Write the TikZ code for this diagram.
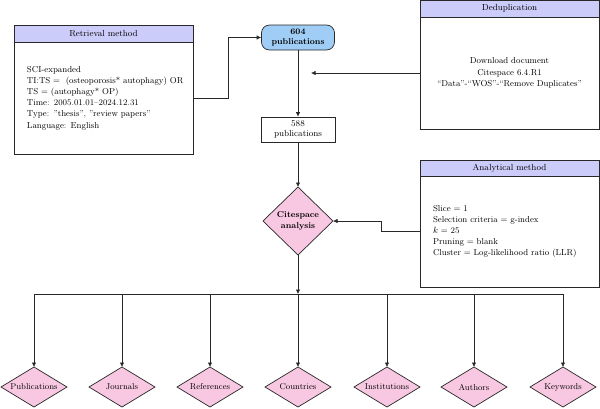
\documentclass[tikz,border=0pt]{standalone}
\usetikzlibrary{positioning,shapes.geometric,arrows.meta}

\definecolor{headcol}{RGB}{204,204,250}
\definecolor{pubcol}{RGB}{160,205,245}
\definecolor{diacol}{RGB}{248,200,226}
\definecolor{linecol}{RGB}{40,40,40}

\tikzset{head/.style = {rectangle, draw=linecol, fill=headcol, minimum width=179pt,
                        minimum height=#1, inner sep=0pt, outer sep=0pt,
                        font=\fontsize{8.8}{10}\selectfont},
         head/.default=17pt,
         body/.style = {rectangle, draw=linecol, minimum width=179pt, minimum height=#1,
                        text width=153pt, inner xsep=13pt, inner ysep=0pt, outer sep=0pt,
                        font=\fontsize{8.6}{11.2}\selectfont},
         body/.default=112pt,
         losange/.style = {diamond, draw=linecol, fill=diacol, inner sep=0pt, outer sep=0pt},
         fleche/.style = {-{Latex[length=4.5pt,width=4.5pt]}, draw=linecol}
        }

\begin{document}
\begin{tikzpicture}[x=1pt, y=-1pt, line width=0.7pt]
  \tikzstyle{pubbox}=[rectangle, draw=linecol, minimum width=74pt, minimum height=25pt,
                      inner sep=0pt, align=center, font=\fontsize{8.8}{10.5}\selectfont]
  \useasboundingbox (0,0) rectangle (600,408);

  \node[head, anchor=north west] (retrieval) at (14,25) {Retrieval method};
  \node[body, below=0pt of retrieval, align=left] (retrievaltxt)
       {SCI-expanded\\
        \mbox{TI:TS = \ (osteoporosis* autophagy) OR}\\
        TS = (autophagy* OP)\\
        Time: 2005.01.01--2024.12.31\\
        Type: "thesis", "review papers"\\
        Language: English};

  \node[head, anchor=north west] (dedup) at (420,0) {Deduplication};
  \node[body, below=0pt of dedup, align=center] (deduptxt)
       {Download document\\
        Citespace 6.4.R1\\
        ``Data''-``WOS''-``Remove Duplicates''};

  \node[head=16pt, anchor=north west] (analyse) at (420,160) {Analytical method};
  \node[body=111pt, below=0pt of analyse, align=left] (analysetxt)
       {Slice = 1\\
        Selection criteria = g-index\\
        $k$ = 25\\
        Pruning = blank\\
        Cluster = Log-likelihood ratio (LLR)};

  \node[pubbox, fill=pubcol, rounded corners=8pt, minimum width=73pt,
        font=\fontsize{8.5}{10.5}\selectfont\bfseries] (p604) at (298,37.5) {604\\publications};
  \node[pubbox] (p588) at (298,129.5) {588\\publications};
  \node[losange, minimum width=70pt, minimum height=68pt, align=center,
        font=\fontsize{8.5}{10.5}\selectfont\bfseries] (cite) at (298,221) {Citespace\\analysis};

  \coordinate (dedupend) at (311,73);
  \coordinate (bus) at (298,294);

  \draw[fleche] (retrievaltxt.east) -- ++(35,0) |- (p604.west);
  \draw[fleche] (deduptxt.west) -- (dedupend);
  \draw[fleche] (p604) -- (p588);
  \draw[fleche] (p588) -- (cite);
  \draw[fleche] (analysetxt.west) -- ++(-39,0) |- (cite.east);
  \draw[fleche] (cite) -- (bus);

  \foreach \x/\nom in {34/Publications, 122/Journals, 210/References, 298/Countries,
                       387/Institutions, 474/Authors, 563/Keywords}
  {
    \node[losange, aspect=1.8, minimum width=66pt, minimum height=40pt,
          font=\fontsize{8.5}{10}\selectfont] (\nom) at (\x,387) {\nom};
    \coordinate (b\nom) at (\x,294);
    \draw[fleche] (b\nom) -- (\nom);
  }
  \draw[draw=linecol] (bPublications) -- (bKeywords);
\end{tikzpicture}
\end{document}
